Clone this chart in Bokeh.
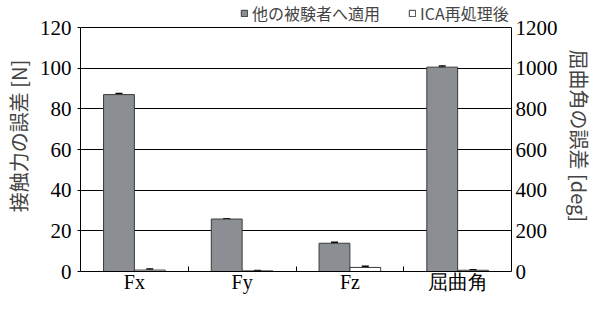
import numpy as np
from bokeh.plotting import figure
from bokeh.models import (ColumnDataSource, Range1d, LinearAxis, FixedTicker,
                          Whisker, TeeHead, Legend, LegendItem, Grid)
from bokeh.transform import dodge
from bokeh.embed import file_html
from bokeh.resources import INLINE

# ---- data ----
categories = ["Fx", "Fy", "Fz", "屈曲角"]
series_names = ["他の被験者へ適用", "ICA再処理後"]
# contact force errors [N] (left axis)
other_force = [87.0, 25.8, 13.9]
other_force_err = [0.5, 0.2, 0.5]
ica_force = [0.7, 0.3, 2.0]
ica_force_err = [0.5, 0.2, 0.6]
# bending angle errors [deg] (right axis)
other_angle = [1005.0]
other_angle_err = [6.0]
ica_angle = [6.0]
ica_angle_err = [3.0]
left_ticks = [0, 20, 40, 60, 80, 100, 120]
right_ticks = [0, 200, 400, 600, 800, 1000, 1200]
left_label = "接触力の誤差 [N]"
right_label = "屈曲角の誤差 [deg]"

GRAY = "#8b8e92"
SERIF = "Liberation Serif"
CJK = "Noto Sans CJK JP"
BAR_W = 0.286
OFF = BAR_W / 2

# layout (pixels)
FIG_W, FIG_H = 596, 295
BORDER_BOTTOM = 24
CHART_TOP = 27                      # pixel row of the 120 / 1200 line
FRAME_H = FIG_H - BORDER_BOTTOM
HEADROOM = FRAME_H / (FRAME_H - CHART_TOP)   # frame extends above the chart for the legend

centers = np.arange(len(categories)) + 0.5
nf = len(other_force)


def make_source(xs, other, other_err, ica, ica_err):
    other = np.array(other)
    other_err = np.array(other_err)
    ica = np.array(ica)
    ica_err = np.array(ica_err)
    return ColumnDataSource(dict(
        x=xs, other=other, other_lo=other - other_err, other_hi=other + other_err,
        ica=ica, ica_lo=ica - ica_err, ica_hi=ica + ica_err))


src_force = make_source(centers[:nf], other_force, other_force_err, ica_force, ica_force_err)
src_angle = make_source(centers[nf:], other_angle, other_angle_err, ica_angle, ica_angle_err)

p = figure(width=FIG_W, height=FIG_H, x_range=Range1d(0, len(categories)),
           y_range=Range1d(left_ticks[0], left_ticks[-1] * HEADROOM),
           output_backend="svg", toolbar_location=None,
           min_border_left=78, min_border_right=75,
           min_border_top=0, min_border_bottom=BORDER_BOTTOM)
p.extra_y_ranges = {"angle": Range1d(right_ticks[0], right_ticks[-1] * HEADROOM)}
p.outline_line_color = None
p.xgrid.visible = False
p.ygrid.visible = False

grid = Grid(dimension=1, ticker=FixedTicker(ticks=left_ticks),
            grid_line_color="black", grid_line_width=1, level="underlay")
p.add_layout(grid, "center")


def bars(src, rng):
    kw = {} if rng is None else {"y_range_name": rng}
    g = p.vbar(x=dodge("x", -OFF), top="other", width=BAR_W, bottom=0, source=src,
               fill_color=GRAY, line_color="#3a3a3a", line_width=1, **kw)
    w = p.vbar(x=dodge("x", OFF), top="ica", width=BAR_W, bottom=0, source=src,
               fill_color="white", line_color="#3a3a3a", line_width=1, **kw)
    for col, off in (("other", -OFF), ("ica", OFF)):
        wh = Whisker(source=src, base=dodge("x", off), upper=col + "_hi", lower=col + "_lo",
                     line_color="black", line_width=1,
                     upper_head=TeeHead(size=7, line_color="black", line_width=1.5),
                     lower_head=TeeHead(size=7, line_color="black", line_width=1.5))
        if rng is not None:
            wh.y_range_name = rng
        p.add_layout(wh)
    return g, w


g1, w1 = bars(src_force, None)
g2, w2 = bars(src_angle, "angle")

# left axis
ya = p.yaxis[0]
ya.ticker = FixedTicker(ticks=left_ticks)
ya.bounds = (left_ticks[0], left_ticks[-1])
ya.axis_label = left_label
ya.axis_label_text_font = CJK
ya.axis_label_text_font_style = "normal"
ya.axis_label_text_font_size = "20px"
ya.axis_label_standoff = 4
ya.major_label_text_font = SERIF
ya.major_label_text_font_size = "21px"
ya.major_label_standoff = 6
ya.major_tick_in = 0
ya.major_tick_out = 3
ya.minor_tick_line_color = None
ya.axis_line_color = "black"
ya.major_label_text_color = "black"

# right axis
ra = LinearAxis(y_range_name="angle", ticker=FixedTicker(ticks=right_ticks),
                bounds=(right_ticks[0], right_ticks[-1]))
ra.axis_label = right_label
ra.axis_label_text_font = CJK
ra.axis_label_text_font_style = "normal"
ra.axis_label_text_font_size = "20px"
ra.axis_label_standoff = 4
ra.major_label_text_font = SERIF
ra.major_label_text_font_size = "21px"
ra.major_label_standoff = 4
ra.major_tick_in = 0
ra.major_tick_out = 0
ra.minor_tick_line_color = None
ra.axis_line_color = "black"
ra.major_label_text_color = "black"
p.add_layout(ra, "right")

# bottom axis
xa = p.xaxis[0]
xa.ticker = FixedTicker(ticks=list(centers), minor_ticks=list(centers[:-1] + 0.5))
xa.major_label_overrides = {float(c): lab for c, lab in zip(centers, categories)}
xa.major_label_text_font = SERIF
xa.major_label_text_font_size = "20px"
xa.major_label_standoff = -1
xa.major_tick_line_color = None
xa.major_tick_in = 0
xa.major_tick_out = 0
xa.minor_tick_in = 5
xa.minor_tick_out = 0
xa.minor_tick_line_color = "black"
xa.axis_line_color = "black"
xa.major_label_text_color = "black"

legend = Legend(items=[LegendItem(label=series_names[0], renderers=[g1]),
                       LegendItem(label=series_names[1], renderers=[w1])],
                location=(160, FRAME_H - 25), orientation="horizontal",
                glyph_width=8, glyph_height=8, label_standoff=4, spacing=28,
                padding=0, margin=0, border_line_color=None,
                background_fill_alpha=0,
                label_text_font=CJK, label_text_font_size="16px",
                label_height=14)
p.add_layout(legend, "center")

open("out.html", "w").write(file_html(p, INLINE))
